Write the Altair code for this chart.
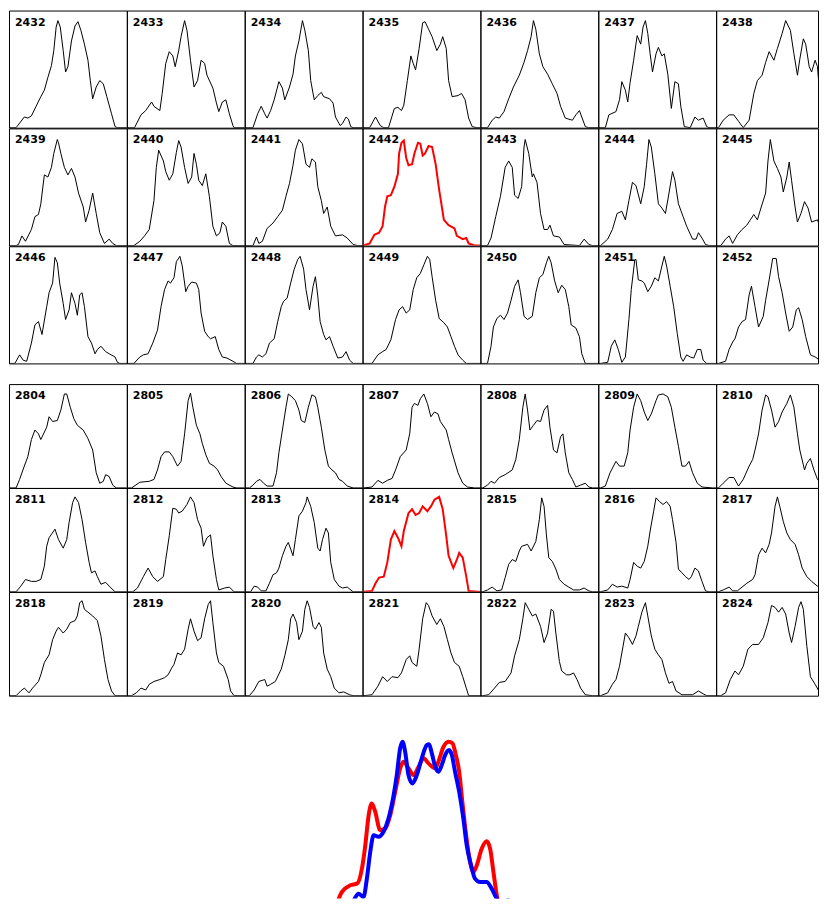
import altair as alt
import pandas as pd

# ---- profile data: (x as % of panel width, height as % of the panel's own peak) ----
GRID_A = {
    "2432": [(0,0),(6,0),(13,10),(16,9),(19,11),(23,20),(27,29),(30,35),(33,47),(36,58),(38,72),(40,94),(41.5,100),(43.5,94),(46,72),(48,52),(50,57),(53,81),(56,95),(58.5,99),(61,91),(64,78),(67,63),(69,44),(71,27),(74,38),(77,44),(80,41),(83,29),(87,13),(90,1),(92,0),(100,0)],
    "2433": [(0,0),(6.5,0),(12,12),(16,16),(21,24),(23,20),(28,16),(30,32),(33,60),(36,71),(39,67),(41,57),(44,72),(46,85),(49,100),(51,91),(54,63),(57,38),(60,44),(63,63),(66,60),(68,49),(73,37),(76,23),(78,15),(81,24),(84,26),(87,13),(90,2),(91,0),(100,0)],
    "2434": [(0,0),(7,0),(11,13),(14,20),(17,13),(19,9),(22,16),(25,26),(29,43),(32,37),(34,26),(38,38),(41,50),(43,67),(46,81),(49,100),(51,91),(54,72),(56,44),(59,26),(62,30),(65,33),(67,29),(72,27),(75,23),(77,10),(81,2),(83,4),(86,10),(88,8),(90,1),(92,0),(100,0)],
    "2435": [(0,0),(6,0),(11,10),(15,2),(18,0),(22,0),(27,18),(30,19),(33,16),(35,21),(38,44),(41,67),(43,60),(45,54),(48,74),(51,98),(53,99),(56,92),(59,85),(63,72),(66,78),(68,85),(71,74),(73,44),(76,29),(81,30),(84,32),(87,26),(90,9),(93,1),(97,0),(100,0)],
    "2436": [(0,0),(6,0),(10,7),(13,10),(16,9),(20,15),(24,27),(28,38),(33,49),(37,61),(40,72),(43,85),(45,100),(47,92),(50,69),(53,57),(57,50),(61,41),(65,32),(68,20),(72,9),(78,7),(81,12),(84,16),(86,10),(89,1),(92,0),(100,0)],
    "2437": [(0,0),(6,0),(9,12),(15,15),(18,26),(20,43),(23,35),(25,24),(27,42),(30,63),(33,86),(36,78),(38,94),(40,100),(42,88),(44,69),(46,52),(49,69),(51,75),(54,67),(56,69),(59,50),(62,18),(65,43),(68,41),(70,20),(73,1),(78,0),(82,10),(85,7),(89,9),(92,1),(94,0),(100,0)],
    "2438": [(0,0),(2,0),(6,7),(11,12),(15,12),(19,6),(23,0),(28,7),(32,32),(35,44),(39,49),(42,61),(45,71),(49,63),(52,74),(56,88),(59,100),(63,91),(66,69),(69,49),(71,64),(74,83),(76,78),(79,57),(81,52),(84,63),(86,57),(88,29),(91,1),(93,0),(100,0)],
    "2439": [(0,0),(6,0),(8,1),(11,9),(14,4),(19,15),(22,27),(25,29),(27,39),(30,66),(33,64),(36,73),(38,86),(41,99),(42,96),(44,86),(47,73),(50,66),(53,72),(56,64),(59,49),(63,36),(65,22),(68,33),(71,49),(74,30),(77,12),(81,2),(85,6),(88,2),(91,0),(100,0)],
    "2440": [(0,0),(6,0),(11,4),(15,9),(19,15),(23,42),(25,73),(27,89),(31,79),(33,69),(36,61),(39,67),(42,87),(44,98),(46,92),(49,73),(52,58),(55,64),(57,86),(59,76),(61,61),(64,56),(67,67),(70,46),(73,18),(76,9),(79,12),(81,22),(84,18),(87,2),(90,0),(100,0)],
    "2441": [(0,0),(7,0),(10,8),(12,2),(15,4),(19,16),(24,21),(28,27),(32,33),(35,46),(38,58),(41,75),(43,89),(46,99),(49,95),(52,76),(55,73),(57,81),(60,78),(62,55),(65,42),(67,30),(70,36),(73,18),(77,9),(83,10),(87,7),(92,1),(96,0),(100,0)],
    "2442": [(0,0),(1,0),(6,2),(10,10),(14,12),(17,18),(19,36),(21,46),(24,47),(27,55),(30,67),(31,86),(33,96),(35,98),(37,82),(39,75),(42,76),(44,86),(47,96),(49,95),(51,84),(53,86),(56,93),(59,92),(62,76),(65,52),(69,24),(73,19),(78,16),(80,9),(85,6),(88,7),(90,2),(95,0),(100,0)],
    "2443": [(0,0),(6,0),(9,7),(13,27),(17,46),(21,73),(24,79),(27,73),(29,47),(32,44),(35,55),(37,92),(38,99),(41,86),(44,64),(45,67),(48,59),(51,30),(54,15),(57,15),(59,19),(62,9),(67,8),(71,1),(84,0),(88,6),(92,1),(95,0),(100,0)],
    "2444": [(0,0),(2,0),(8,6),(12,15),(16,30),(20,32),(23,24),(26,42),(29,59),(32,56),(36,39),(39,55),(41,76),(43,99),(45,92),(48,67),(51,39),(54,35),(57,30),(60,49),(63,69),(65,61),(68,39),(72,27),(75,18),(80,6),(83,6),(85,12),(88,7),(91,1),(94,0),(100,0)],
    "2445": [(0,0),(4,0),(8,6),(11,9),(14,2),(18,10),(22,15),(26,19),(29,24),(32,29),(35,24),(38,35),(42,49),(44,79),(46,99),(49,79),(52,72),(55,64),(57,50),(60,64),(62,78),(64,61),(67,36),(69,22),(72,30),(75,41),(78,35),(81,22),(86,24),(88,18),(91,9),(93,1),(96,0),(100,0)],
    "2446": [(0,0),(5,0),(9,8),(12,3),(15,2),(19,19),(22,36),(25,39),(28,27),(32,53),(34,66),(37,75),(39,99),(41,94),(43,75),(46,56),(48,41),(51,50),(53,66),(56,56),(58,45),(60,64),(62,66),(64,53),(67,25),(70,19),(73,9),(75,13),(78,16),(82,11),(85,9),(90,6),(92,1),(94,0),(100,0)],
    "2447": [(0,0),(6,0),(11,6),(14,8),(18,9),(22,19),(26,31),(29,53),(32,69),(35,77),(37,75),(40,80),(42,95),(45,100),(47,91),(50,67),(52,72),(55,76),(59,75),(61,69),(63,47),(66,30),(69,25),(71,23),(75,25),(78,13),(81,6),(85,5),(90,2),(93,0),(100,0)],
    "2448": [(0,0),(7,0),(10,6),(12,8),(15,6),(18,9),(21,19),(25,23),(28,39),(31,53),(33,58),(36,61),(39,75),(42,88),(45,97),(47,100),(50,88),(52,69),(55,50),(58,72),(60,81),(62,63),(64,39),(67,27),(69,22),(72,25),(75,16),(79,5),(83,6),(86,11),(89,3),(92,0),(100,0)],
    "2449": [(0,0),(8,0),(13,8),(17,11),(20,13),(24,22),(28,41),(31,50),(34,53),(37,47),(40,50),(43,69),(46,80),(49,84),(52,92),(55,100),(57,97),(59,81),(62,59),(65,42),(69,38),(72,34),(75,25),(78,16),(81,8),(85,3),(88,0),(100,0)],
    "2450": [(0,0),(6,0),(9,16),(11,34),(14,42),(17,45),(20,41),(23,47),(26,59),(29,72),(32,78),(34,66),(37,44),(40,41),(44,44),(47,66),(50,80),(53,83),(56,94),(58,100),(60,94),(63,77),(66,66),(69,73),(72,69),(75,53),(77,36),(81,33),(84,25),(86,9),(89,0),(100,0)],
    "2451": [(0,0),(2,0),(8,1),(11,16),(14,22),(17,13),(20,1),(23,6),(26,41),(28,69),(31,97),(32,97),(34,78),(37,77),(39,75),(42,67),(45,72),(48,80),(51,77),(54,91),(56,100),(58,91),(61,72),(64,53),(67,28),(70,6),(72,2),(75,8),(78,6),(81,5),(84,13),(87,13),(89,3),(92,0),(100,0)],
    "2452": [(0,0),(2,0),(8,2),(11,13),(14,20),(16,23),(19,34),(22,39),(25,41),(28,64),(30,72),(33,53),(36,34),(40,44),(42,59),(45,78),(48,98),(51,98),(53,81),(56,66),(59,47),(62,30),(65,34),(68,50),(70,52),(73,41),(76,25),(80,8),(84,6),(88,3),(93,0),(100,0)],
}

GRID_B = {
    "2804": [(0,0),(6,0),(9,9),(13,23),(16,33),(19,51),(22,61),(25,57),(27,51),(32,64),(34,75),(37,70),(41,71),(44,82),(47,99),(49,99),(52,85),(55,73),(58,66),(63,61),(67,52),(71,40),(74,16),(77,5),(80,7),(82,14),(85,12),(88,3),(91,0),(100,0)],
    "2805": [(0,0),(4,0),(11,6),(19,7),(23,9),(26,19),(29,33),(32,38),(36,38),(39,33),(43,23),(46,28),(49,57),(52,92),(54,100),(56,85),(59,66),(62,57),(64,47),(67,35),(70,26),(74,23),(77,19),(80,12),(84,5),(90,1),(93,0),(100,0)],
    "2806": [(0,0),(4,0),(7,3),(10,7),(13,9),(16,5),(19,2),(24,2),(27,16),(29,37),(32,61),(35,85),(37,99),(40,96),(43,92),(46,82),(48,71),(51,69),(54,85),(57,98),(60,96),(62,85),(65,64),(68,40),(71,23),(74,19),(77,16),(80,9),(83,7),(87,2),(92,0),(100,0)],
    "2807": [(0,0),(1,0),(8,1),(13,8),(17,5),(21,8),(25,10),(28,19),(32,33),(37,40),(40,57),(42,85),(44,89),(47,87),(49,94),(52,99),(55,89),(58,75),(61,80),(64,78),(66,70),(71,61),(73,51),(76,37),(81,16),(85,5),(89,1),(95,0),(100,0)],
    "2808": [(0,0),(2,0),(6,3),(9,7),(12,5),(16,11),(21,14),(27,19),(30,30),(33,51),(36,85),(38,99),(40,82),(42,61),(45,66),(48,71),(51,70),(54,82),(57,87),(59,64),(62,40),(65,37),(68,54),(70,57),(72,37),(75,16),(78,9),(81,1),(85,3),(89,5),(92,1),(95,0),(100,0)],
    "2809": [(0,0),(2,0),(6,2),(10,16),(15,28),(18,23),(22,23),(25,37),(27,61),(30,85),(33,99),(36,92),(39,80),(42,71),(45,78),(49,92),(51,98),(55,99),(59,96),(62,85),(65,64),(68,44),(71,23),(74,23),(77,28),(80,16),(84,5),(88,1),(97,0),(100,0)],
    "2810": [(0,0),(2,0),(6,5),(11,11),(15,11),(19,2),(23,9),(28,23),(31,30),(33,40),(36,57),(39,82),(42,98),(44,96),(47,82),(50,64),(53,70),(56,80),(60,89),(63,98),(66,85),(69,57),(71,40),(75,19),(77,26),(80,31),(83,19),(86,9),(90,3),(93,1),(100,0)],
    "2811": [(0,0),(6,0),(10,6),(14,13),(19,11),(23,11),(27,13),(30,27),(32,48),(34,57),(39,66),(42,55),(46,46),(49,55),(51,73),(54,94),(56,100),(59,94),(62,76),(65,52),(68,31),(70,20),(73,22),(75,16),(78,8),(82,10),(85,6),(90,0),(100,0)],
    "2812": [(0,0),(5,0),(9,4),(14,16),(18,25),(22,16),(26,11),(31,16),(33,34),(36,59),(39,88),(42,87),(44,83),(47,85),(51,92),(54,100),(57,94),(60,76),(63,67),(65,48),(68,57),(71,60),(73,38),(76,13),(78,2),(83,4),(87,5),(91,0),(100,0)],
    "2813": [(0,0),(5,0),(8,6),(11,5),(14,1),(18,1),(21,9),(24,18),(27,20),(29,25),(32,38),(35,48),(37,52),(39,45),(41,38),(43,55),(46,80),(49,85),(52,94),(53,100),(56,90),(59,73),(62,46),(64,43),(66,55),(69,67),(71,62),(73,31),(76,13),(80,6),(83,4),(87,5),(92,0),(100,0)],
    "2814": [(0,0),(1,0),(8,1),(11,9),(14,15),(18,16),(21,31),(24,55),(27,64),(30,57),(33,48),(35,64),(39,83),(42,87),(45,81),(48,83),(51,90),(55,85),(58,90),(61,97),(65,100),(68,87),(71,59),(73,38),(77,25),(80,34),(82,41),(85,36),(88,16),(90,1),(97,0),(100,0)],
    "2815": [(0,0),(2,0),(6,2),(10,5),(14,1),(18,2),(21,15),(24,29),(27,34),(30,32),(33,43),(35,48),(40,50),(43,43),(47,53),(50,76),(52,99),(54,90),(56,60),(58,36),(61,32),(64,24),(67,13),(71,8),(75,5),(79,2),(84,2),(88,4),(92,1),(95,0),(100,0)],
    "2816": [(0,0),(2,0),(8,2),(12,8),(16,5),(20,6),(25,4),(27,13),(30,31),(33,27),(36,25),(39,32),(42,48),(44,64),(47,85),(49,99),(52,95),(55,92),(58,95),(61,90),(63,76),(66,52),(68,24),(71,20),(74,16),(77,13),(79,16),(82,25),(85,22),(88,11),(91,1),(94,0),(100,0)],
    "2817": [(0,0),(2,0),(6,2),(11,5),(14,1),(18,1),(22,5),(26,9),(31,13),(33,18),(36,39),(39,46),(42,41),(45,50),(47,62),(50,90),(52,100),(54,90),(57,74),(60,62),(63,55),(67,50),(70,39),(73,25),(77,16),(81,11),(86,6),(90,2),(93,0),(100,0)],
    "2818": [(0,0),(6,0),(10,5),(13,8),(17,3),(20,8),(25,15),(27,22),(30,35),(34,43),(37,59),(40,68),(42,72),(46,66),(49,70),(52,77),(56,79),(58,84),(60,98),(62,100),(64,91),(67,88),(71,84),(75,79),(78,63),(81,38),(84,17),(87,5),(90,0),(100,0)],
    "2819": [(0,0),(4,0),(8,3),(12,8),(16,6),(19,12),(23,15),(28,17),(32,19),(35,22),(38,29),(40,33),(43,45),(46,43),(49,49),(52,70),(54,81),(57,68),(60,58),(63,61),(66,81),(69,96),(71,100),(73,77),(76,45),(78,35),(82,31),(86,17),(88,5),(91,0),(100,0)],
    "2820": [(0,0),(4,0),(8,6),(12,15),(17,17),(19,10),(22,12),(26,15),(31,28),(34,42),(37,59),(39,81),(41,86),(44,77),(46,59),(49,68),(51,91),(53,100),(55,93),(58,73),(60,70),(63,77),(65,72),(67,45),(70,28),(73,20),(76,8),(80,3),(84,4),(89,1),(92,0),(100,0)],
    "2821": [(0,0),(1,0),(8,1),(13,10),(17,20),(21,15),(25,20),(30,19),(33,24),(37,38),(40,42),(42,35),(46,31),(48,49),(51,81),(54,98),(56,95),(59,84),(63,75),(66,81),(69,73),(72,59),(75,45),(78,35),(82,31),(85,20),(88,8),(90,0),(100,0)],
    "2822": [(0,0),(2,0),(7,1),(12,8),(16,14),(21,15),(26,24),(29,42),(33,59),(36,81),(38,98),(41,91),(44,84),(47,86),(51,73),(54,56),(57,66),(60,91),(62,89),(64,66),(67,36),(69,26),(73,22),(76,22),(79,24),(82,17),(85,8),(89,1),(95,0),(100,0)],
    "2823": [(0,0),(2,0),(8,3),(12,12),(15,17),(18,31),(21,52),(23,66),(26,61),(29,54),(32,63),(34,73),(37,88),(40,98),(42,84),(45,63),(48,49),(51,43),(54,38),(57,24),(60,13),(63,15),(66,5),(71,1),(80,1),(85,5),(89,2),(92,0),(100,0)],
    "2824": [(0,0),(4,0),(8,3),(12,17),(16,26),(19,22),(23,31),(27,49),(31,54),(36,54),(40,61),(44,77),(47,95),(50,93),(53,88),(56,93),(59,86),(62,66),(64,56),(67,73),(70,93),(72,99),(74,91),(77,52),(80,20),(84,12),(88,3),(93,0),(100,0)],
}

HIGHLIGHTED = ["2442", "2814"]

# bottom overlay profiles (x in % of the red profile's extent, height in % of peak)
OVERLAY_RED = [(0,0),(7.6,0),(12.6,11.4),(16.8,15.4),(20.2,16.3),(22.7,25.2),(24.4,39),(26.1,56.7),(27.7,63.6),(29.4,58.7),(31.9,47.8),(34.5,48.8),(37,56.7),(39.5,70.5),(42,84.3),(43.7,88.2),(46.2,84.3),(48.7,80.3),(51.3,85.2),(53.8,90.2),(56.3,87.2),(59.7,84.3),(61.3,88.2),(63.9,97),(66.4,100),(68.4,99),(70.1,92.1),(71.8,82.3),(73.4,64.6),(75.1,46.9),(77.3,29.1),(79,23.2),(80.7,27.2),(83.2,37),(85.7,41.3),(87.4,37),(89.1,23.2),(90.8,9.4),(93.3,1.6),(96.6,0),(100,0)]
OVERLAY_BLUE = [(9.2,0),(16,1.6),(18.5,6.5),(21,10.4),(23.5,8.5),(25.2,19.3),(26.9,35),(28.6,44.9),(31.1,43.9),(33.6,46.9),(36.1,54.7),(38.7,68.5),(40.3,80.3),(42,96.1),(43.2,100),(44.5,94.1),(46.2,80.3),(48.2,75.4),(50.4,80.3),(52.9,90.2),(55.5,98),(56.6,98.4),(58,93.1),(59.7,85.2),(61.3,82.3),(63,86.2),(64.7,92.1),(66.7,95.1),(68.1,92.1),(69.7,82.3),(71.8,70.5),(73.9,54.7),(75.6,39),(77.8,27.2),(79.8,19.3),(82.4,17.3),(85.7,17.3),(88.2,13.4),(90.8,7.5),(93.6,3.5),(96.3,6.5),(98.3,5.5),(100.8,0.6),(101.7,0)]

COLS = 7
PANEL_W = 118
LAST_W = 102          # the seventh column is cut by the picture's right edge
ROW_H_A = 117.3
ROW_H_B = 104


def panel(label, pts, height, last):
    df = pd.DataFrame({"x": [p[0] for p in pts], "y": [p[1] for p in pts], "k": list(range(len(pts)))})
    hl = label in HIGHLIGHTED
    w = LAST_W if last else PANEL_W
    xmax = 100 * w / PANEL_W
    line = alt.Chart(df).mark_line(
        color="#ff0000" if hl else "#000000", strokeWidth=2 if hl else 1, clip=True
    ).encode(
        x=alt.X("x:Q", scale=alt.Scale(domain=[0, xmax], nice=False, zero=False), axis=None),
        y=alt.Y("y:Q", scale=alt.Scale(domain=[0, 109.4], nice=False), axis=None),
        order="k:Q",
    )
    txt = alt.Chart(pd.DataFrame({"label": [label]})).mark_text(
        align="left", baseline="alphabetic", font="DejaVu Sans", fontSize=11,
        fontWeight="bold", color="black",
    ).encode(x=alt.value(6), y=alt.value(15), text="label:N")
    return alt.layer(line, txt).properties(width=w, height=height)


def grid(profiles, height):
    labels = list(profiles.keys())
    panels = [panel(lb, profiles[lb], height, i % COLS == COLS - 1) for i, lb in enumerate(labels)]
    return alt.concat(*panels, columns=COLS, spacing=0, bounds="flush")


grid_a = grid(GRID_A, ROW_H_A)
grid_b = grid(GRID_B, ROW_H_B)

ov_red = pd.DataFrame({"x": [p[0] for p in OVERLAY_RED], "y": [p[1] for p in OVERLAY_RED], "k": list(range(len(OVERLAY_RED)))})
ov_blue = pd.DataFrame({"x": [p[0] for p in OVERLAY_BLUE], "y": [p[1] for p in OVERLAY_BLUE], "k": list(range(len(OVERLAY_BLUE)))})

total_w = PANEL_W * (COLS - 1) + LAST_W
bx = alt.X("x:Q", scale=alt.Scale(domain=[-155.5, -155.5 + total_w / 1.983], nice=False, zero=False), axis=None)
by = alt.Y("y:Q", scale=alt.Scale(domain=[7.6, 115.3], nice=False, zero=False), axis=None)
red_line = alt.Chart(ov_red).mark_line(color="#ff0000", strokeWidth=4, interpolate="monotone", clip=True).encode(x=bx, y=by, order="k:Q")
blue_line = alt.Chart(ov_blue).mark_line(color="#0000ff", strokeWidth=4, interpolate="monotone", clip=True).encode(x=bx, y=by, order="k:Q")
bottom = alt.layer(red_line, blue_line).properties(
    width=total_w, height=183, view=alt.ViewBackground(strokeOpacity=0)
)

chart = alt.vconcat(grid_a, grid_b, bottom, spacing=19).properties(
    padding={"left": 0, "top": 1, "right": 0, "bottom": 0},
    background="white",
).configure_view(stroke="black", strokeWidth=1)

chart.save("out.html", embed_options={"renderer": "svg", "actions": False})
